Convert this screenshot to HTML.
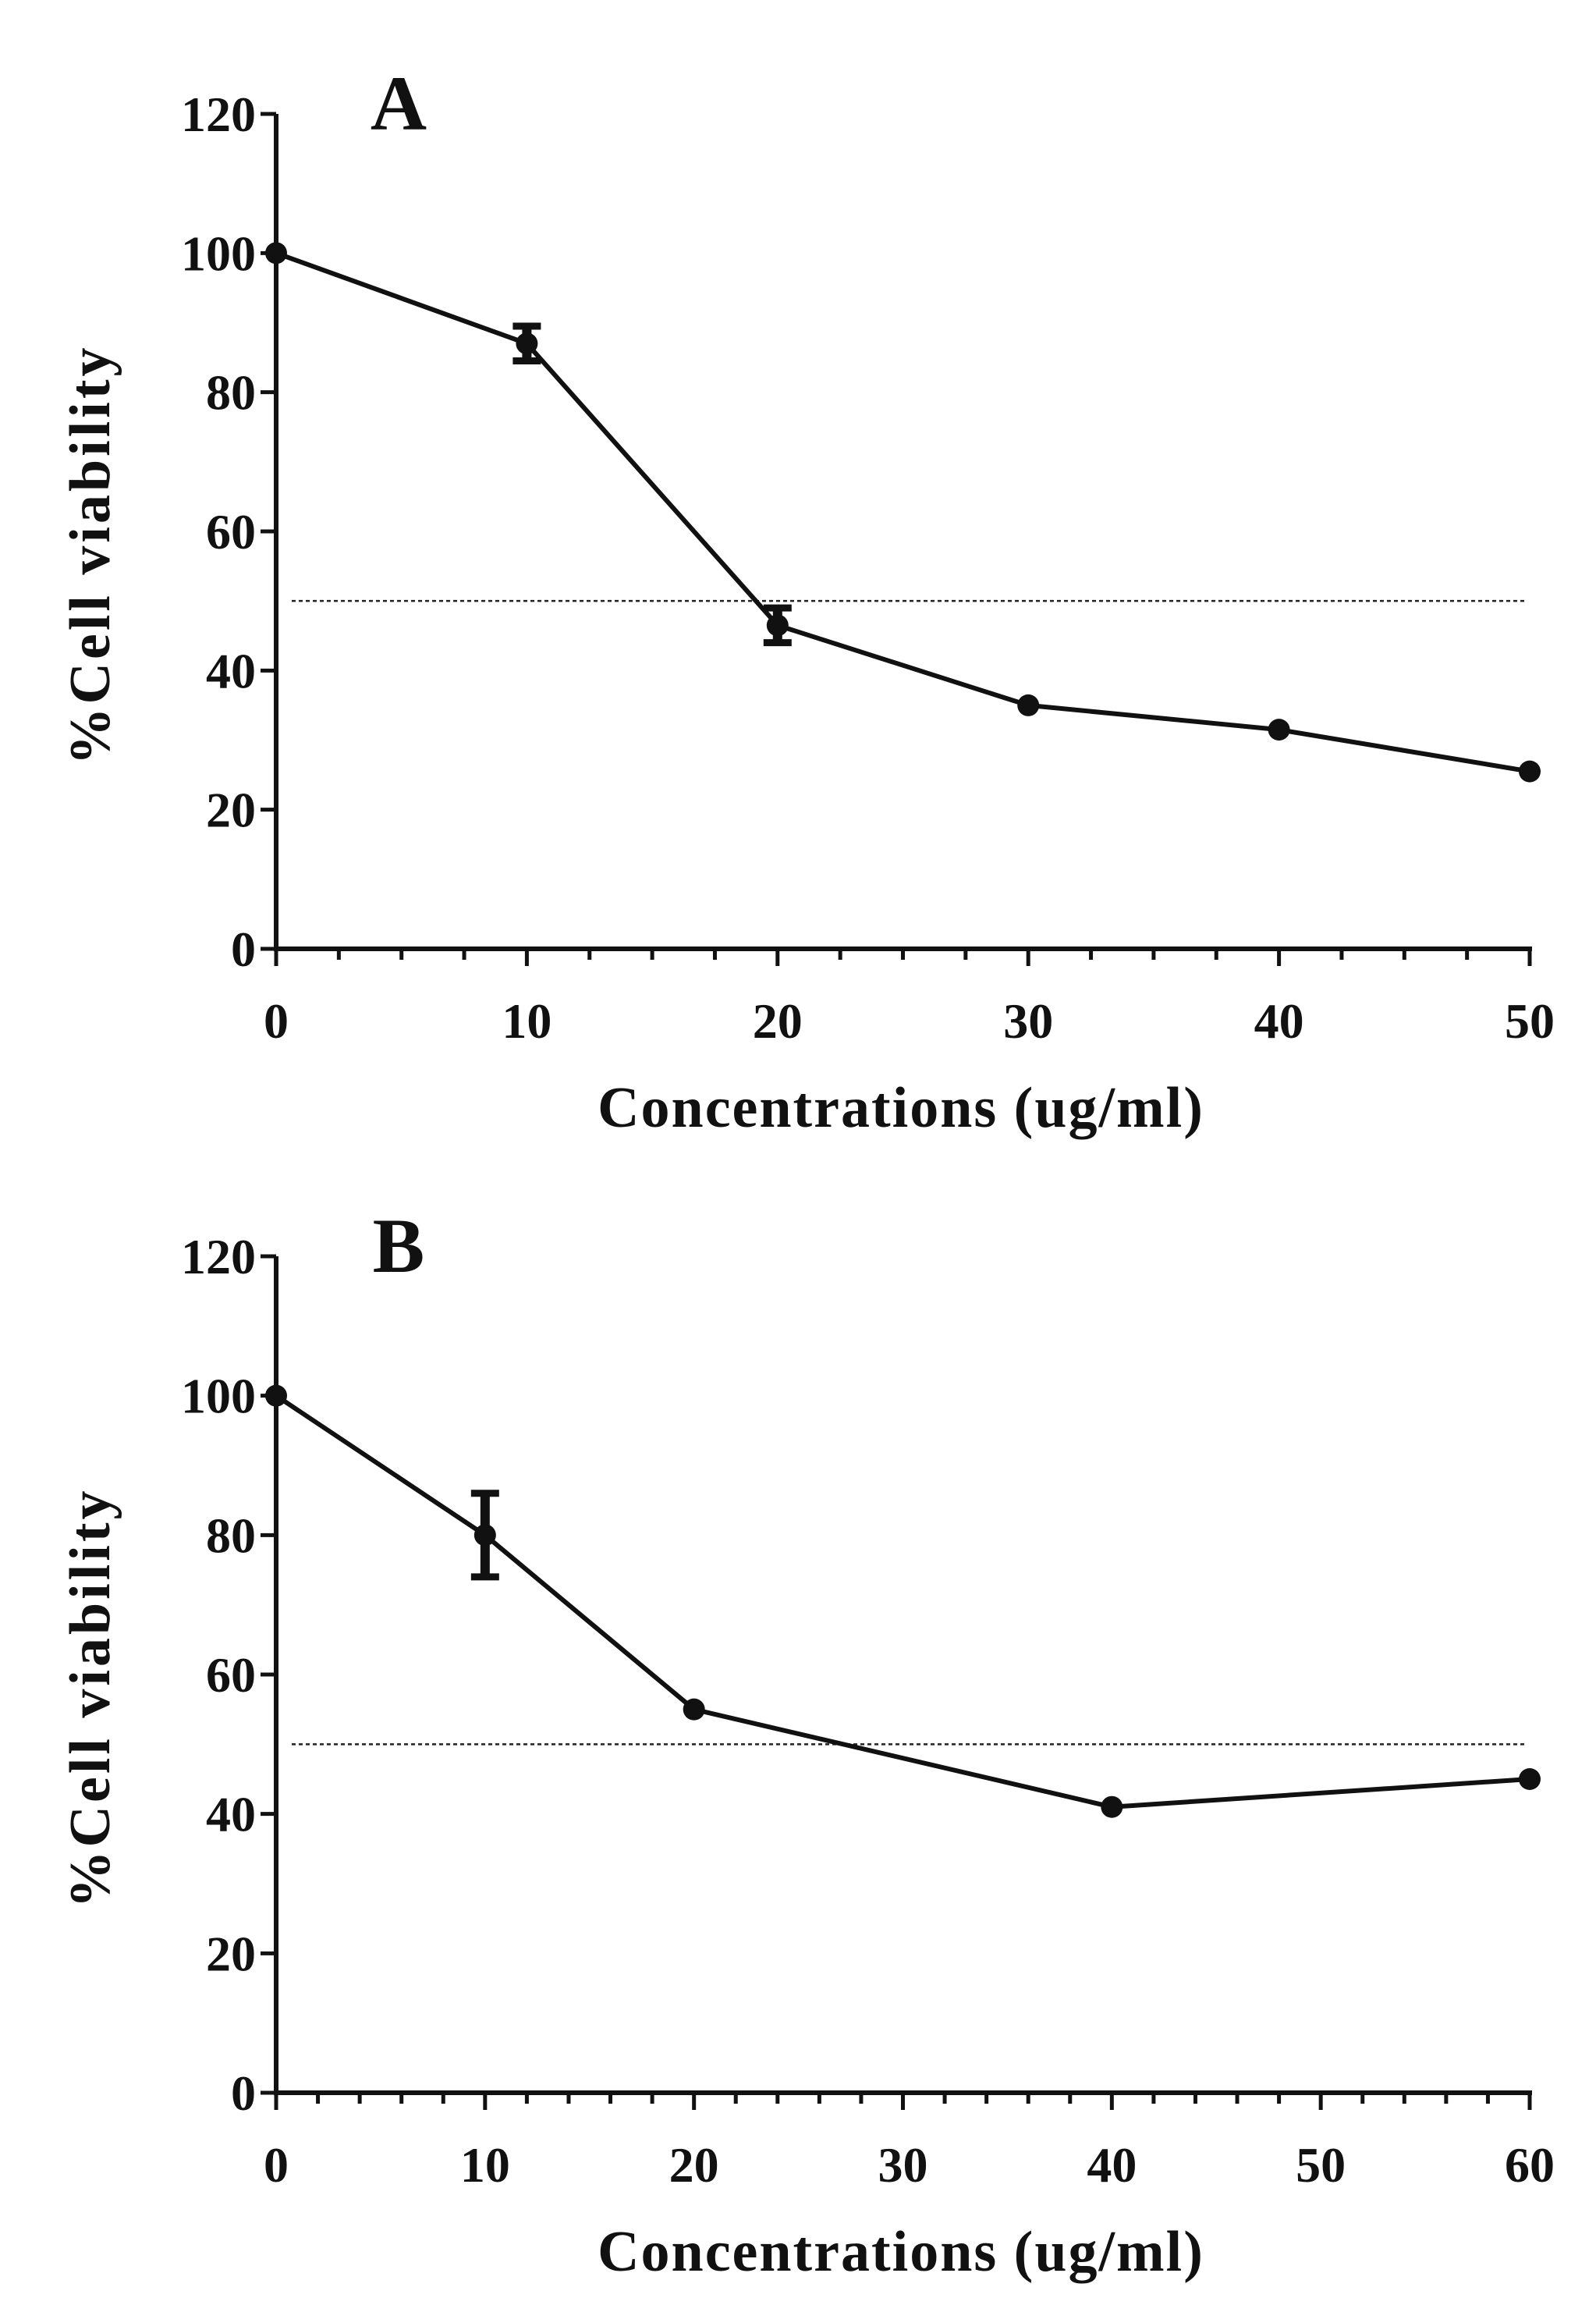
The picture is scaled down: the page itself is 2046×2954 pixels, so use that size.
<!DOCTYPE html>
<html><head><meta charset="utf-8"><style>
html,body{margin:0;padding:0;background:#fff;}
svg{display:block;}
text{font-family:"Liberation Serif",serif;font-weight:bold;fill:#111;}
</style></head><body>
<svg id="chart" width="2046" height="2954" viewBox="0 0 2046 2954"></svg>
<script>
const aX = [0, 10, 20, 30, 40, 50];
const aY = [100, 87, 46.5, 35, 31.5, 25.5];
const aErr = [0, 2.5, 2.5, 0, 0, 0];
const aTicks = [0, 10, 20, 30, 40, 50];
const bX = [0, 10, 20, 40, 60];
const bY = [100, 80, 55, 41, 45];
const bErr = [0, 6, 0, 0, 0];
const bTicks = [0, 10, 20, 30, 40, 50, 60];
const yTicks = [0, 20, 40, 60, 80, 100, 120];
const refLine = 50;

const svg = document.getElementById('chart');
const NS = 'http://www.w3.org/2000/svg';
function mk(tag, attrs, parent){const e=document.createElementNS(NS,tag);for(const k in attrs)e.setAttribute(k,attrs[k]);(parent||svg).appendChild(e);return e;}

function panel(id, letter, xs, ys, errs, xt, xmax, minorStep, top, bottom){
  const g = mk('g', {});
  
  
  const L = 354, R = 1961;
  const sx = v => L + (R - L) * v / xmax;
  const sy = v => bottom - (bottom - top) * v / 120;
  const ya = mk('line', {x1:L,y1:top,x2:L,y2:bottom+2,stroke:'#111','stroke-width':6}, g);
  
  
  const xa = mk('line', {x1:L-3,y1:bottom,x2:R+3,y2:bottom,stroke:'#111','stroke-width':6}, g);
  
  
  yTicks.forEach(v => {
    mk('line', {x1:L-20,y1:sy(v),x2:L,y2:sy(v),stroke:'#111','stroke-width':5}, g);
    const t = mk('text', {x:L-26,y:sy(v)+22,'text-anchor':'end','font-size':64}, g);
    t.textContent = v;
    
    
  });
  for (let v = 0; v <= xmax + 0.001; v += minorStep) {
    const major = xt.includes(Math.round(v*100)/100);
    mk('line', {x1:sx(v),y1:bottom,x2:sx(v),y2:bottom+(major?22:14),stroke:'#111','stroke-width':5}, g);
  }
  xt.forEach(v => {
    const t = mk('text', {x:sx(v),y:bottom+114,'text-anchor':'middle','font-size':64}, g);
    t.textContent = v;
    
    
  });
  const rl = mk('line', {x1:L+20,y1:sy(refLine),x2:R-5,y2:sy(refLine),stroke:'#222','stroke-width':2.5,'stroke-dasharray':'5,4'}, g);
  
  
  const pts = xs.map((x,i)=>sx(x)+','+sy(ys[i])).join(' ');
  const pl = mk('polyline', {points:pts,fill:'none',stroke:'#111','stroke-width':6,'stroke-linejoin':'round'}, g);
  
  
  xs.forEach((x,i) => {
    if (errs[i] > 0) {
      const eg = mk('g', {}, g);
      
      
      const y1 = sy(ys[i]+errs[i]), y2 = sy(ys[i]-errs[i]);
      mk('line', {x1:sx(x),y1:y1,x2:sx(x),y2:y2,stroke:'#111','stroke-width':12}, eg);
      mk('line', {x1:sx(x)-18,y1:y1,x2:sx(x)+18,y2:y1,stroke:'#111','stroke-width':9}, eg);
      mk('line', {x1:sx(x)-18,y1:y2,x2:sx(x)+18,y2:y2,stroke:'#111','stroke-width':9}, eg);
    }
    const c = mk('circle', {cx:sx(x),cy:sy(ys[i]),r:14,fill:'#111'}, g);
    
    
  });
  const lt = mk('text', {x:511,y:top+20,'text-anchor':'middle','font-size':100}, g);
  lt.textContent = letter;
  
  
  const xl = mk('text', {x:1155,y:bottom+228,'text-anchor':'middle','font-size':74,'letter-spacing':2}, g);
  xl.textContent = 'Concentrations (ug/ml)';
  
  
  const cy = (top+bottom)/2 + 30;
  const yl = mk('text', {x:0,y:0,'text-anchor':'middle','font-size':74,'letter-spacing':4,transform:'translate(140,'+cy+') rotate(-90)'}, g);
  yl.textContent = '%Cell viability';
  
  
}
panel('a', 'A', aX, aY, aErr, aTicks, 50, 2.5, 146, 1216);
panel('b', 'B', bX, bY, bErr, bTicks, 60, 2, 1610, 2682);
</script>
</body></html>
